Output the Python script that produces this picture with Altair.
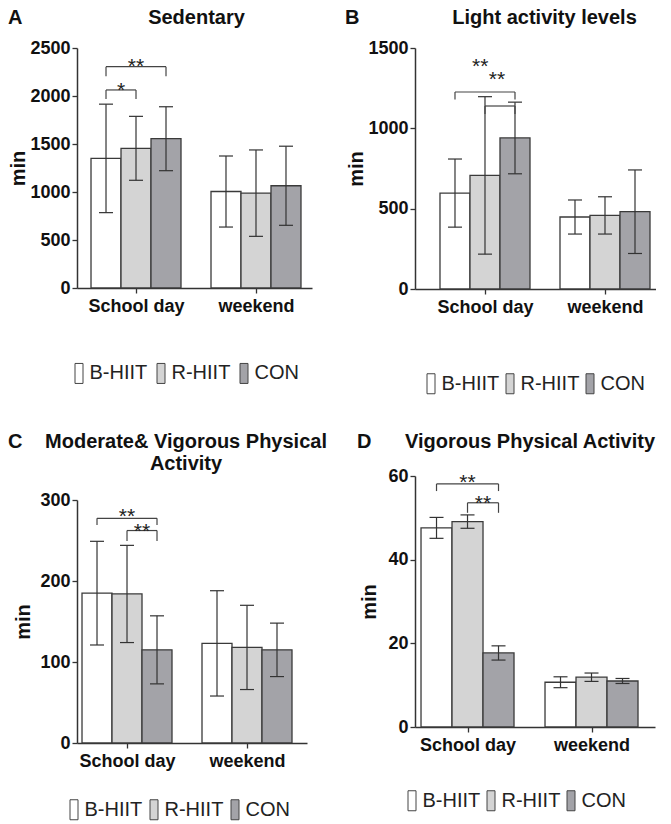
import altair as alt
import pandas as pd

FONT = "Liberation Sans"

groups = ["School day", "weekend"]
series = ["B-HIIT", "R-HIIT", "CON"]
fills = ["#ffffff", "#d4d4d4", "#a3a3a8"]

# first three values = School day (B-HIIT, R-HIIT, CON), last three = weekend
sed_mean = [1350, 1455, 1555, 1005, 988, 1065]
sed_sd = [565, 333, 333, 370, 450, 412]
light_mean = [597, 707, 940, 448, 458, 481]
light_sd = [212, 490, 223, 106, 116, 260]
mvpa_mean = [185, 184, 115, 123, 118, 115]
mvpa_sd = [64, 60, 42, 65, 52, 33]
vpa_mean = [47.6, 49.1, 17.7, 10.7, 11.9, 11.0]
vpa_sd = [2.5, 1.6, 1.7, 1.3, 1.0, 0.6]

# significance brackets on School day: [from bar, to bar, top value, end value]
sed_brackets = [[0, 1, 2063, 1969], [0, 2, 2305, 2205]]
sed_stars = [["*", 0.5, 2115], ["**", 1.0, 2365]]
light_brackets = [[0, 2, 1226, 1180], [1, 2, 1139, 1089]]
light_stars = [["**", 0.84, 1416], ["**", 1.4, 1340]]
mvpa_brackets = [[0, 2, 277.4, 269.2], [1, 2, 262.3, 249.4]]
mvpa_stars = [["**", 1.0, 286.9], ["**", 1.5, 267.9]]
vpa_brackets = [[0, 2, 58.1, 56.4], [1, 2, 53.6, 51.2]]
vpa_stars = [["**", 1.0, 59.8], ["**", 1.5, 54.8]]

sed_ticks = [0, 500, 1000, 1500, 2000, 2500]
light_ticks = [0, 500, 1000, 1500]
mvpa_ticks = [0, 100, 200, 300]
vpa_ticks = [0, 20, 40, 60]

INK = "#333333"
STEP = len(series) + 1


def panel(letter, title, means, sds, brackets, stars, yticks, xdom, w, h, lay):
    bars = pd.DataFrame({
        "group": [g for g in groups for _ in series],
        "series": series * len(groups),
        "gi": [i for i in range(len(groups)) for _ in series],
        "si": list(range(len(series))) * len(groups),
        "mean": means,
        "sd": sds,
    })
    centers = [i * STEP + (len(series) - 1) / 2 for i in range(len(groups))]
    label_expr = f"datum.value < {centers[0] + STEP / 2} ? '{groups[0]}' : '{groups[1]}'"
    xs = alt.Scale(domain=xdom, nice=False, zero=False)
    ys = alt.Scale(domain=[yticks[0], yticks[-1]], nice=False)
    xaxis = alt.Axis(values=centers, labelExpr=label_expr, title=None, labelFlush=False,
                     tickSize=5, labelPadding=4, labelFontSize=18, labelOverlap=False)
    yaxis = alt.Axis(values=yticks, title="min", titlePadding=lay["tpad"], tickSize=5,
                     labelPadding=2, labelFontSize=18, format="d")

    def X(f):
        return alt.X(f, type="quantitative", scale=xs, axis=xaxis)

    def Y(f):
        return alt.Y(f, type="quantitative", scale=ys, axis=yaxis)

    base = alt.Chart(bars).transform_calculate(
        pos=f"datum.gi * {STEP} + datum.si"
    ).transform_calculate(
        x0="datum.pos - 0.5", x1="datum.pos + 0.5",
        lo="datum.mean - datum.sd", hi="datum.mean + datum.sd", zero="0"
    )

    legend = alt.Legend(
        orient="none", legendX=lay["lx"], legendY=lay["ly"], direction="horizontal",
        title=None, symbolType="M-0.4,-1L0.4,-1L0.4,1L-0.4,1Z", symbolSize=400,
        symbolStrokeColor="#444444", symbolStrokeWidth=1, labelFont=FONT,
        labelFontSize=20, labelFontWeight="normal", labelColor="#222222",
        labelOffset=0, columnPadding=lay["cp"], padding=0, offset=0,
    )
    rect = base.mark_rect(stroke="#3a3a3a", strokeWidth=1.3).encode(
        x=X("x0"), x2="x1:Q", y=Y("mean"), y2="zero:Q",
        fill=alt.Fill("series:N", scale=alt.Scale(domain=series, range=fills), legend=legend),
    )
    err = base.mark_rule(color=INK, strokeWidth=1.2).encode(x=X("pos"), y=Y("lo"), y2="hi:Q")
    cap_style = dict(shape="M-1,0L1,0", size=196, filled=False, color=INK, strokeWidth=1.2, opacity=1)
    cap_hi = base.mark_point(**cap_style).encode(x=X("pos"), y=Y("hi"))
    cap_lo = base.mark_point(**cap_style).encode(x=X("pos"), y=Y("lo"))

    bdf = pd.DataFrame(brackets, columns=["a", "b", "top", "end"])
    br_h = alt.Chart(bdf).mark_rule(color="#444444", strokeWidth=1.2).encode(
        x=X("a"), x2="b:Q", y=Y("top"))
    br_v = alt.Chart(bdf).transform_fold(["a", "b"], as_=["side", "xp"]).mark_rule(
        color="#444444", strokeWidth=1.2).encode(x=X("xp"), y=Y("top"), y2="end:Q")

    sdf = pd.DataFrame(stars, columns=["label", "x", "y"])
    st = alt.Chart(sdf).mark_text(font=FONT, fontSize=21, baseline="alphabetic", dy=12,
                                  color="#222222").encode(x=X("x"), y=Y("y"), text="label:N")

    let = alt.Chart(pd.DataFrame({"t": [letter]})).mark_text(
        font=FONT, fontSize=20, fontWeight="bold", align="left", baseline="alphabetic",
        color="#111111").encode(text="t:N", x=alt.value(lay["lpx"]), y=alt.value(lay["lpy"]))

    return alt.layer(rect, err, cap_hi, cap_lo, br_h, br_v, st, let).properties(
        width=w, height=h,
        title=alt.TitleParams(text=title, anchor="middle", frame="group", font=FONT,
                              fontSize=20, fontWeight="bold", color="#111111",
                              offset=lay["toff"], lineHeight=22, dx=lay["tdx"]),
    )


A = panel("A", "Sedentary", sed_mean, sed_sd, sed_brackets, sed_stars, sed_ticks,
          [-0.967, 6.867], 235, 240,
          dict(lx=-8.5, ly=314.7, cp=3, lpx=-69, lpy=-24, toff=-20, tpad=1, tdx=2))
B = panel("B", "Light activity levels", light_mean, light_sd, light_brackets, light_stars,
          light_ticks, [-1.333, 6.7], 241, 241,
          dict(lx=5.5, ly=325, cp=-3, lpx=-70, lpy=-24, toff=-20, tpad=1, tdx=9))
C = panel("C", ["Moderate& Vigorous Physical", "Activity"], mvpa_mean, mvpa_sd, mvpa_brackets,
          mvpa_stars, mvpa_ticks, [-0.667, 7.0], 230, 243,
          dict(lx=-13.5, ly=299, cp=1, lpx=-69, lpy=-52, toff=-42, tpad=6, tdx=-6))
D = panel("D", "Vigorous Physical Activity", vpa_mean, vpa_sd, vpa_brackets, vpa_stars,
          vpa_ticks, [-0.694, 7.048], 240, 251,
          dict(lx=-13.5, ly=314, cp=0, lpx=-58, lpy=-28, toff=-20, tpad=8, tdx=-5))

left = alt.vconcat(A, C, spacing=46).resolve_scale(fill="independent").resolve_legend(fill="independent")
right = alt.vconcat(B, D, spacing=36).resolve_scale(fill="independent").resolve_legend(fill="independent")

chart = alt.hconcat(left, right, spacing=18).resolve_scale(fill="independent").resolve_legend(
    fill="independent").properties(padding=0).configure(font=FONT).configure_view(
    stroke=None).configure_axis(
    labelFont=FONT, labelFontWeight="bold", labelColor="#111111",
    titleFont=FONT, titleFontSize=20, titleFontWeight="bold", titleColor="#111111",
    domainColor=INK, domainWidth=1.5, tickColor=INK, tickWidth=1.3, grid=False)

chart.save("out.html", embed_options={"renderer": "svg", "actions": False})
